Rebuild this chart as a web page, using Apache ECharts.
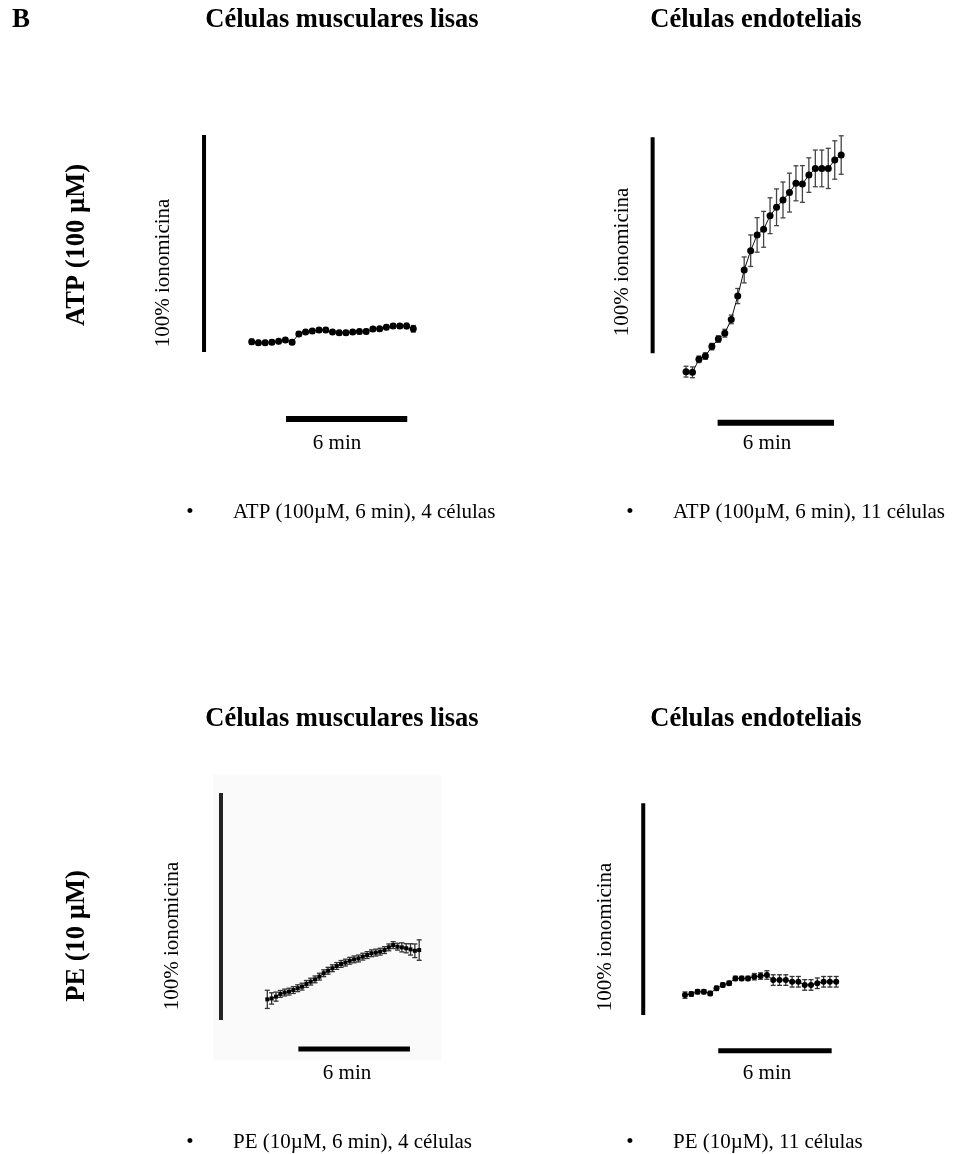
<!DOCTYPE html>
<html><head><meta charset="utf-8">
<script src="https://cdn.jsdelivr.net/npm/echarts@6/dist/echarts.min.js"></script>
<style>html,body{margin:0;padding:0;background:#fff}#c{width:955px;height:1154px}</style>
</head><body><div id="c"></div>
<script>
// ---------- DATA (time in seconds, values in % of ionomycin response) ----------
const tlTime = [0,20,40,60,80,100,120,140,160,180,200,220,240,260,280,300,320,340,360,380,400,420,440,460,480];
const tlMean = [4.7,4.3,4.3,4.5,4.9,5.5,4.5,8.3,9.2,9.7,10.1,10.1,9.2,8.9,8.9,9.2,9.4,9.5,10.6,10.7,11.4,12.0,12.0,12.0,10.7];
const tlErr  = [1.2,1,1,1,1,1,1,1,1,1,1,1,1,1,1,1,1,1,1,1,1,1,1,1.2,1.5];

const trTime = [0,20,40,60,80,100,120,140,160,180,200,220,240,260,280,300,320,340,360,380,400,420,440,460,480];
const trMean = [-8.5,-8.8,-2.8,-1.3,3.1,6.6,9.3,15.7,26.5,38.6,47.5,54.8,57.4,63.7,67.6,71.0,74.4,78.7,78.4,82.5,85.6,85.6,85.6,89.5,91.8];
const trErr  = [2.5,2.5,1.5,1.5,1.5,1.5,1.8,2,3.5,6,7.3,8,8.3,8.3,8.5,8.3,9,8.1,8.5,8,8.5,8.5,9.3,8.9,8.9];

const blTime = [0,14,28,42,56,70,84,98,112,126,140,154,168,182,196,210,224,238,252,266,280,294,308,322,336,350,364,378,392,406,420,434,448,462,476,490];
const blMean = [9.1,9.5,10.3,11.5,12.1,12.5,13.2,14.0,14.7,15.9,16.9,17.9,19.1,20.6,21.7,22.8,23.8,24.7,25.3,26.1,26.7,27.1,27.9,28.6,29.4,29.7,30.1,30.8,32.0,33.0,32.3,32.0,31.6,31.1,30.5,30.8];
const blErr  = [4,2.5,2,1.5,1.5,1.5,1.5,1.5,1.5,1.5,1.5,1.5,1.5,1.5,1.5,1.5,1.5,1.5,1.5,1.5,1.5,1.5,1.5,1.5,1.5,1.5,1.5,1.5,1.5,1.5,1.5,2,2,2.5,3,4.5];

const brTime = [0,20,40,60,80,100,120,140,160,180,200,220,240,260,280,300,320,340,360,380,400,420,440,460,480];
const brMean = [9.4,9.9,11.0,11.0,10.2,12.6,14.2,15.0,17.3,17.3,17.3,18.1,18.4,18.9,16.5,16.5,16.5,15.7,15.7,14.2,14.2,15.0,15.7,15.7,15.7];
const brErr  = [1.5,1,1,1,1,1,1,1,1,1,1,1.5,1.5,2,2.5,2.5,2.5,2.5,2.5,2.5,2.5,2.5,2.5,2.5,2.5];

// scale-bar annotations (minutes, %)
const scaleBarX   = {tl:-2.36, tr:-1.72, bl:-2.49, br:-2.21};
const timeBarT0   = {tl:1.70,  tr:1.63,  bl:1.67,  br:1.76};
const timeBarY    = {tl:-30.9, tr:-32.1, bl:-12.8, br:-16.9};
const timeBarLen  = 6;      // minutes
const scaleBarLen = 100;    // % ionomicina

const colTitles = ['Células musculares lisas', 'Células endoteliais'];
const rowLabels = ['ATP (100 µM)', 'PE (10 µM)'];
const legendTexts = ['ATP (100µM, 6 min), 4 células','ATP (100µM, 6 min), 11 células','PE (10µM, 6 min), 4 células','PE (10µM), 11 células'];

// ---------- LAYOUT ----------
const grids = {
  tl:{left:191.1, top:113.3, width:242.4, height:325.5},
  tr:{left:627.8, top:115.7, width:232.8, height:324},
  bl:{left:211.5, top:770.3, width:223.2, height:340.5},
  br:{left:628.3, top:782.1, width:226.8, height:317.6}
};
const panelData = {
  tl:{t:tlTime, m:tlMean, e:tlErr, sym:'circle', size:7, errCol:'#222', tb:6, sbCol:'#000'},
  tr:{t:trTime, m:trMean, e:trErr, sym:'circle', size:7, errCol:'#444', tb:6, sbCol:'#000'},
  bl:{t:blTime, m:blMean, e:blErr, sym:'rect', size:4, errCol:'#333', tb:5, sbCol:'#222'},
  br:{t:brTime, m:brMean, e:brErr, sym:'circle', size:6, errCol:'#333', tb:5, sbCol:'#000'}
};

const FONT = '"Liberation Serif","Times New Roman",serif';
const gridArr=[], xAxes=[], yAxes=[], series=[];
Object.keys(grids).forEach((k,i)=>{
  const g = grids[k], d = panelData[k];
  gridArr.push({left:g.left, top:g.top, width:g.width, height:g.height, containLabel:false});
  xAxes.push({type:'value', gridIndex:i, min:-3, max:9, show:false});
  yAxes.push({type:'value', gridIndex:i, min:-40, max:110, show:false});
  const pts = d.t.map((s,j)=>[s/60, d.m[j]]);
  const errs = d.t.map((s,j)=>[s/60, d.m[j]-d.e[j], d.m[j]+d.e[j]]);
  series.push({
    type:'custom', xAxisIndex:i, yAxisIndex:i, data:errs, silent:true, z:2,
    renderItem:(params, api)=>{
      const x=api.value(0), lo=api.value(1), hi=api.value(2);
      const p1=api.coord([x,lo]), p2=api.coord([x,hi]); const w=2.5;
      const st={stroke:d.errCol, lineWidth:1.3};
      return {type:'group', children:[
        {type:'line', shape:{x1:p1[0],y1:p1[1],x2:p2[0],y2:p2[1]}, style:st},
        {type:'line', shape:{x1:p1[0]-w,y1:p1[1],x2:p1[0]+w,y2:p1[1]}, style:st},
        {type:'line', shape:{x1:p2[0]-w,y1:p2[1],x2:p2[0]+w,y2:p2[1]}, style:st}
      ]};
    }
  });
  series.push({type:'line', xAxisIndex:i, yAxisIndex:i, data:pts, symbol:d.sym, symbolSize:d.size,
    showSymbol:true, itemStyle:{color:'#000'}, lineStyle:{color:'#111', width:1}, z:3, silent:true, animation:false});
  // vertical scale bar (100% ionomicina)
  series.push({type:'line', xAxisIndex:i, yAxisIndex:i, data:[[scaleBarX[k],0],[scaleBarX[k],scaleBarLen]],
    symbol:'none', lineStyle:{color:d.sbCol, width:4, cap:'butt'}, silent:true, animation:false});
  // horizontal 6 min bar
  series.push({type:'line', xAxisIndex:i, yAxisIndex:i, data:[[timeBarT0[k],timeBarY[k]],[timeBarT0[k]+timeBarLen,timeBarY[k]]],
    symbol:'none', lineStyle:{color:'#000', width:d.tb, cap:'butt'}, silent:true, animation:false});
});

function txt(x,y,text,size,bold,align,rot){
  return {type:'text', x:x, y:y, rotation:rot||0, silent:true, z:10,
    style:{text:text, font:(bold?'bold ':'')+size+'px '+FONT, fill:'#000',
      textAlign:align||'center', textVerticalAlign:'middle'}};
}
const R = Math.PI/2;
const graphics = [
  {type:'rect', shape:{x:213, y:775, width:228, height:285}, style:{fill:'#fafafa'}, z:0, silent:true},
  txt(12,20,'B',27,true,'left'),
  txt(342,20,colTitles[0],26.5,true), txt(756,20,colTitles[1],26.5,true),
  txt(342,719,colTitles[0],26.5,true), txt(756,719,colTitles[1],26.5,true),
  txt(77,245,rowLabels[0],26.5,true,'center',R), txt(77,936,rowLabels[1],26.5,true,'center',R),
  txt(163,273,'100% ionomicina',21,false,'center',R), txt(622,262,'100% ionomicina',21,false,'center',R),
  txt(172,936,'100% ionomicina',21,false,'center',R), txt(605,937,'100% ionomicina',21,false,'center',R),
  txt(337,443,'6 min',21,false), txt(767,443,'6 min',21,false),
  txt(347,1073,'6 min',21,false), txt(767,1073,'6 min',21,false),
  txt(190,512,'•',21,false), txt(233,512,legendTexts[0],21,false,'left'),
  txt(630,512,'•',21,false), txt(673,512,legendTexts[1],21,false,'left'),
  txt(190,1142,'•',21,false), txt(233,1142,legendTexts[2],21,false,'left'),
  txt(630,1142,'•',21,false), txt(673,1142,legendTexts[3],21,false,'left')
];

const chart = echarts.init(document.getElementById('c'), null, {renderer:'canvas'});
chart.setOption({animation:false, backgroundColor:'#fff', grid:gridArr, xAxis:xAxes, yAxis:yAxes, series:series, graphic:graphics});
</script></body></html>
